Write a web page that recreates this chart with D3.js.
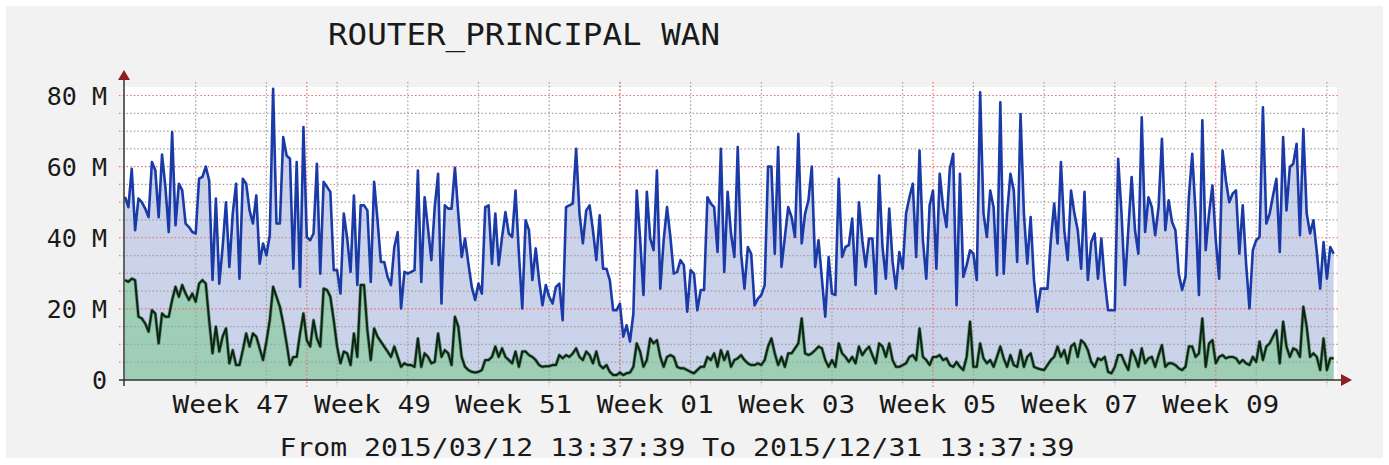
<!DOCTYPE html>
<html>
<head>
<meta charset="utf-8">
<script src="https://cdn.jsdelivr.net/npm/d3@7"></script>
<style>
  html, body { margin: 0; padding: 0; background: #ffffff; }
  svg { display: block; }
  text { font-family: "DejaVu Sans Mono", monospace; fill: #1a1a1a; }
</style>
</head>
<body>
<script>
// traffic samples, one every 8 hours from 2017-11-13 00:00 UTC, values in M
const inbound = [
  51.5,48.6,59.4,42.1,51.0,50.0,48.2,45.8,61.3,59.0,45.8,63.4,54.3,41.6,69.7,43.5,55.2,53.3,44.0,43.0,41.6,
  41.2,56.6,57.1,60.0,56.1,28.1,51.0,27.1,37.4,50.0,31.8,46.8,55.2,28.5,56.6,55.2,47.7,44.0,51.9,32.7,38.4,
  35.1,40.7,81.9,44.0,44.0,68.3,63.1,62.2,31.3,61.3,26.2,71.1,40.2,39.3,41.2,60.8,29.9,55.7,54.3,52.9,30.9,
  30.9,24.3,46.8,39.8,30.4,51.9,26.7,49.1,49.1,47.7,27.6,55.7,45.0,33.2,33.2,29.0,26.7,37.4,41.6,20.1,30.4,
  29.9,30.4,30.9,58.9,27.6,51.4,42.6,33.7,48.6,58.0,21.5,49.1,48.2,48.2,59.7,46.8,34.6,39.8,32.7,26.2,22.5,
  27.1,24.3,48.6,49.1,32.7,46.8,32.3,40.2,47.2,41.2,40.2,53.3,35.5,20.1,44.9,42.1,28.1,37.0,28.1,21.0,26.7,
  23.4,21.5,26.2,27.1,16.8,48.6,49.1,49.6,65.0,46.8,38.4,47.7,49.1,42.1,33.7,46.3,31.3,31.3,28.1,19.6,19.6,
  21.5,12.2,15.4,10.8,18.7,53.3,39.8,23.9,52.9,39.8,36.5,58.9,25.7,39.3,48.6,40.2,29.9,30.4,33.7,32.3,19.2,
  30.9,29.9,19.6,25.3,25.3,51.4,49.6,48.6,36.0,65.0,30.4,52.9,41.2,34.6,65.5,35.5,25.7,37.4,35.5,21.0,22.9,
  23.9,26.7,60.0,60.0,35.5,65.5,31.8,40.2,48.6,45.8,40.2,69.2,38.4,46.8,50.5,60.0,31.8,39.3,28.5,17.8,34.6,
  24.3,23.9,56.6,34.6,37.4,37.9,45.4,26.7,50.0,39.3,31.8,39.8,39.8,24.3,57.5,37.4,28.5,48.2,33.2,25.7,36.0,
  31.3,46.8,51.4,55.2,34.6,64.5,39.3,28.5,49.1,53.3,31.3,58.0,48.6,43.0,59.4,63.6,21.0,58.0,29.0,32.3,36.5,
  35.5,28.1,80.9,46.8,40.2,53.3,48.6,29.5,78.1,29.9,46.8,58.0,53.3,33.2,74.8,46.8,32.7,45.8,28.1,19.2,25.7,
  25.7,25.7,39.3,49.6,38.4,61.3,42.1,33.7,53.3,46.8,42.1,31.3,52.9,28.1,38.8,41.2,28.5,39.8,28.1,19.6,19.6,
  19.6,62.2,46.8,26.7,42.1,57.1,42.1,35.5,73.9,41.6,51.4,48.6,40.7,48.6,67.8,42.1,50.5,44.4,42.1,29.9,25.3,
  29.0,51.4,63.6,46.8,23.9,73.0,36.5,46.8,54.7,39.3,28.5,64.5,56.1,50.0,52.4,53.3,35.5,49.1,32.7,20.1,36.5,
  39.3,40.2,76.7,44.0,46.8,51.9,56.6,36.0,68.3,47.7,59.9,60.8,66.4,40.7,70.6,46.8,41.2,44.9,36.0,25.7,38.8,
  28.5,37.4,35.5
];
const outbound = [
  28.1,27.6,28.5,28.1,17.8,17.3,15.9,13.6,19.6,18.7,10.3,18.7,17.8,17.8,22.5,26.2,23.4,26.7,24.3,22.5,24.3,
  22.0,27.1,28.1,27.1,16.8,7.5,15.0,8.0,12.2,14.5,4.7,8.4,4.2,4.2,8.4,13.1,9.4,13.1,12.2,8.9,5.6,
  10.8,16.8,26.2,23.4,20.6,15.9,10.3,4.2,6.5,6.5,13.1,18.7,11.2,9.4,16.8,11.7,9.4,25.7,25.3,23.4,16.8,
  9.4,4.7,8.0,7.5,4.2,13.1,6.5,26.7,26.7,14.0,5.6,14.5,12.2,10.8,9.4,8.0,6.5,9.4,6.5,3.7,4.7,
  4.2,4.2,3.7,11.7,3.7,7.5,6.5,4.7,5.1,13.1,6.5,8.4,7.5,4.2,17.8,15.0,6.5,3.7,2.8,2.3,2.1,
  2.3,2.8,5.6,5.6,6.5,9.4,6.5,8.9,6.5,5.6,4.7,8.0,3.7,8.0,8.0,7.0,6.5,5.6,4.2,3.7,3.9,
  3.9,4.2,4.2,7.0,6.1,7.0,6.5,7.5,8.9,6.5,5.6,8.0,7.0,4.7,8.0,4.2,3.3,4.2,2.3,1.4,1.4,
  2.1,1.4,1.9,2.1,3.7,10.3,8.0,3.7,5.6,11.7,10.3,11.2,6.5,3.7,6.5,7.0,6.5,3.7,3.3,3.3,2.8,
  2.3,1.9,2.8,3.7,3.7,6.5,5.6,7.5,3.7,8.4,5.6,8.0,3.7,5.6,6.1,7.0,5.6,4.7,4.2,4.2,4.7,
  4.2,5.6,9.4,11.7,7.5,4.2,6.5,3.7,7.5,7.5,8.9,10.3,17.3,7.5,7.0,7.5,8.4,9.4,8.9,5.6,3.7,
  5.6,3.7,10.3,7.5,6.5,5.1,6.5,4.7,9.4,7.0,8.4,9.4,7.0,4.7,10.3,9.4,6.5,10.3,5.6,3.7,3.7,
  4.2,4.7,6.5,7.0,5.6,14.5,6.5,5.6,4.2,6.5,6.5,7.0,5.6,6.1,4.2,3.7,5.1,3.7,2.8,6.5,16.4,
  3.7,3.7,10.3,6.1,4.7,5.6,3.7,6.5,9.4,6.1,3.7,7.0,4.2,3.7,8.4,3.7,6.5,7.5,3.7,3.3,3.0,
  2.8,4.2,5.6,6.5,9.4,6.5,8.4,4.7,9.4,10.3,6.5,11.2,10.3,8.4,5.1,3.7,6.1,5.6,6.5,2.3,1.9,
  3.7,7.0,7.0,4.7,2.8,8.4,6.5,3.7,8.9,4.7,6.1,6.5,3.7,7.0,9.8,3.7,4.7,4.7,4.2,3.3,2.8,
  3.7,9.4,9.4,6.5,7.5,17.3,3.7,10.3,11.2,4.7,6.5,7.0,6.1,6.5,6.5,6.1,4.7,5.6,4.7,4.2,6.5,
  5.1,10.8,5.6,9.4,10.3,12.2,14.0,4.7,16.4,9.4,6.5,8.9,8.4,6.5,20.6,15.0,6.5,7.5,6.5,2.8,11.7,
  2.8,6.1,6.1
];

const yTicks = [0, 20, 40, 60, 80];
const yTickLabels = ["0", "20 M", "40 M", "60 M", "80 M"];
const weekLabels = ["Week 47", "Week 49", "Week 51", "Week 01", "Week 03", "Week 05", "Week 07", "Week 09"];
const weekLabelStarts = ["2017-11-20", "2017-12-04", "2017-12-18", "2018-01-01", "2018-01-15", "2018-01-29", "2018-02-12", "2018-02-26"];
const title = "ROUTER_PRINCIPAL WAN";
const footer = "From 2015/03/12 13:37:39 To 2015/12/31 13:37:39";

const startTime = Date.UTC(2017, 10, 13);
const endTime = Date.UTC(2018, 2, 13);
const stepHours = 8;

const W = 1389, H = 465;
const pLeft = 125, pRight = 1337, pTop = 87, pBottom = 380;

const svg = d3.select("body").append("svg")
  .attr("width", W).attr("height", H);

svg.append("rect").attr("x", 6).attr("y", 6).attr("width", W - 12).attr("height", H - 13)
  .attr("fill", "#f2f2f2");
svg.append("rect").attr("x", pLeft).attr("y", pTop).attr("width", pRight - pLeft).attr("height", pBottom - pTop)
  .attr("fill", "#ffffff");

const x = d3.scaleUtc().domain([startTime, endTime]).range([pLeft, pRight]);
const y = d3.scaleLinear().domain([0, 80]).range([pBottom, 95.5]);

const rows = inbound.map((v, i) => ({
  t: d3.utcHour.offset(new Date(startTime), i * stepHours),
  a: v,
  b: outbound[i]
}));

// areas
svg.append("path").datum(rows)
  .attr("fill", "#cbd3ea")
  .attr("d", d3.area().x(d => x(d.t)).y0(y(0)).y1(d => y(d.a)));
svg.append("path").datum(rows)
  .attr("fill", "#9fceb7")
  .attr("d", d3.area().x(d => x(d.t)).y0(y(0)).y1(d => y(d.b)));

// grid
const grid = svg.append("g");
d3.range(5, 81, 5).forEach(v => {
  const major = v % 20 === 0;
  grid.append("line")
    .attr("x1", pLeft - 6).attr("x2", pRight + 3)
    .attr("y1", y(v)).attr("y2", y(v))
    .attr("stroke", major ? "#ee6a6a" : "#a0a0a0")
    .attr("stroke-width", 1.2)
    .attr("stroke-dasharray", "1.5,2.2");
});
d3.utcMonday.range(new Date(startTime + 1), new Date(endTime)).forEach(d => {
  grid.append("line")
    .attr("x1", x(d)).attr("x2", x(d))
    .attr("y1", pTop - 5).attr("y2", pBottom + 6)
    .attr("stroke", "#a0a0a0").attr("stroke-width", 1.2)
    .attr("stroke-dasharray", "1.5,2.2");
});
d3.utcMonth.range(new Date(startTime), new Date(endTime)).forEach(d => {
  grid.append("line")
    .attr("x1", x(d)).attr("x2", x(d))
    .attr("y1", pTop - 5).attr("y2", pBottom + 8)
    .attr("stroke", "#ee6a6a").attr("stroke-width", 1.2)
    .attr("stroke-dasharray", "1.5,2.2");
});

// lines
svg.append("path").datum(rows)
  .attr("fill", "none").attr("stroke", "#1a3aa8").attr("stroke-width", 2.6)
  .attr("stroke-linejoin", "round")
  .attr("d", d3.line().x(d => x(d.t)).y(d => y(d.a)));
svg.append("path").datum(rows)
  .attr("fill", "none").attr("stroke", "#2f6a3e").attr("stroke-width", 3.4)
  .attr("stroke-linejoin", "round").attr("opacity", 0.6)
  .attr("d", d3.line().x(d => x(d.t)).y(d => y(d.b)));
svg.append("path").datum(rows)
  .attr("fill", "none").attr("stroke", "#0c2412").attr("stroke-width", 2)
  .attr("stroke-linejoin", "round")
  .attr("d", d3.line().x(d => x(d.t)).y(d => y(d.b)));

// axes
svg.append("line").attr("x1", pLeft - 1).attr("x2", pLeft - 1).attr("y1", pBottom + 6).attr("y2", pTop - 10)
  .attr("stroke", "#333").attr("stroke-width", 1.5);
svg.append("line").attr("x1", pLeft - 6).attr("x2", pRight + 5).attr("y1", pBottom).attr("y2", pBottom)
  .attr("stroke", "#333").attr("stroke-width", 1.5);
svg.append("path").attr("d", `M${pLeft - 7},${pTop - 7} L${pLeft + 5},${pTop - 7} L${pLeft - 1},${pTop - 17} Z`)
  .attr("fill", "#8e1f1f");
svg.append("path").attr("d", `M${pRight + 4},${pBottom - 6} L${pRight + 4},${pBottom + 6} L${pRight + 15},${pBottom} Z`)
  .attr("fill", "#8e1f1f");

// y labels
svg.append("g").selectAll("text").data(yTicks).join("text")
  .attr("x", 107).attr("y", d => y(d))
  .attr("dy", "0.36em")
  .attr("text-anchor", "end")
  .attr("font-size", 25)
  .text((d, i) => yTickLabels[i]);

// week labels
const parse = d3.utcParse("%Y-%m-%d");
svg.append("g").selectAll("text").data(weekLabelStarts).join("text")
  .attr("x", d => x(d3.utcHour.offset(parse(d), 84)))
  .attr("y", 413)
  .attr("text-anchor", "middle")
  .attr("font-size", 24)
  .attr("textLength", 117).attr("lengthAdjust", "spacingAndGlyphs")
  .text((d, i) => weekLabels[i]);

svg.append("text").attr("x", 524).attr("y", 45)
  .attr("text-anchor", "middle").attr("font-size", 31)
  .attr("textLength", 392).attr("lengthAdjust", "spacingAndGlyphs")
  .text(title);

svg.append("text").attr("x", 677).attr("y", 456)
  .attr("text-anchor", "middle").attr("font-size", 24)
  .attr("textLength", 795).attr("lengthAdjust", "spacingAndGlyphs")
  .text(footer);
</script>
</body>
</html>
